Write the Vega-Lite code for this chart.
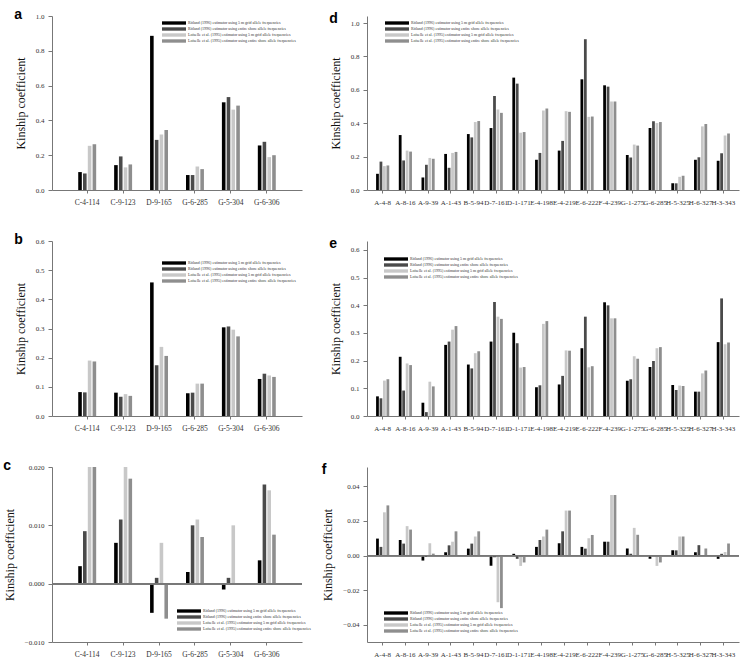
{
"$schema": "https://vega.github.io/schema/vega-lite/v6.json",
"padding": {"left": 3, "top": 8, "right": 4, "bottom": 0},
"background": "white",
"columns": 2,
"spacing": {"row": 27, "column": 10},
"resolve": {"legend": {"color": "independent"}, "scale": {"color": "independent", "y": "independent", "x": "independent", "xOffset": "independent"}},
"datasets": {
"a": [
{"locus":"C-4-114","m":"r5","v":0.103},{"locus":"C-4-114","m":"rs","v":0.095},{"locus":"C-4-114","m":"l5","v":0.254},{"locus":"C-4-114","m":"ls","v":0.263},
{"locus":"C-9-123","m":"r5","v":0.143},{"locus":"C-9-123","m":"rs","v":0.193},{"locus":"C-9-123","m":"l5","v":0.13},{"locus":"C-9-123","m":"ls","v":0.147},
{"locus":"D-9-165","m":"r5","v":0.886},{"locus":"D-9-165","m":"rs","v":0.288},{"locus":"D-9-165","m":"l5","v":0.319},{"locus":"D-9-165","m":"ls","v":0.345},
{"locus":"G-6-285","m":"r5","v":0.086},{"locus":"G-6-285","m":"rs","v":0.086},{"locus":"G-6-285","m":"l5","v":0.135},{"locus":"G-6-285","m":"ls","v":0.12},
{"locus":"G-5-304","m":"r5","v":0.504},{"locus":"G-5-304","m":"rs","v":0.534},{"locus":"G-5-304","m":"l5","v":0.462},{"locus":"G-5-304","m":"ls","v":0.485},
{"locus":"G-6-306","m":"r5","v":0.256},{"locus":"G-6-306","m":"rs","v":0.277},{"locus":"G-6-306","m":"l5","v":0.189},{"locus":"G-6-306","m":"ls","v":0.2}
],
"b": [
{"locus":"C-4-114","m":"r5","v":0.082},{"locus":"C-4-114","m":"rs","v":0.081},{"locus":"C-4-114","m":"l5","v":0.19},{"locus":"C-4-114","m":"ls","v":0.187},
{"locus":"C-9-123","m":"r5","v":0.08},{"locus":"C-9-123","m":"rs","v":0.066},{"locus":"C-9-123","m":"l5","v":0.075},{"locus":"C-9-123","m":"ls","v":0.069},
{"locus":"D-9-165","m":"r5","v":0.458},{"locus":"D-9-165","m":"rs","v":0.174},{"locus":"D-9-165","m":"l5","v":0.237},{"locus":"D-9-165","m":"ls","v":0.206},
{"locus":"G-6-285","m":"r5","v":0.078},{"locus":"G-6-285","m":"rs","v":0.08},{"locus":"G-6-285","m":"l5","v":0.111},{"locus":"G-6-285","m":"ls","v":0.111},
{"locus":"G-5-304","m":"r5","v":0.304},{"locus":"G-5-304","m":"rs","v":0.307},{"locus":"G-5-304","m":"l5","v":0.296},{"locus":"G-5-304","m":"ls","v":0.273},
{"locus":"G-6-306","m":"r5","v":0.127},{"locus":"G-6-306","m":"rs","v":0.145},{"locus":"G-6-306","m":"l5","v":0.139},{"locus":"G-6-306","m":"ls","v":0.134}
],
"c": [
{"locus":"C-4-114","m":"r5","v":0.003},{"locus":"C-4-114","m":"rs","v":0.009},{"locus":"C-4-114","m":"l5","v":0.02},{"locus":"C-4-114","m":"ls","v":0.02},
{"locus":"C-9-123","m":"r5","v":0.007},{"locus":"C-9-123","m":"rs","v":0.011},{"locus":"C-9-123","m":"l5","v":0.02},{"locus":"C-9-123","m":"ls","v":0.018},
{"locus":"D-9-165","m":"r5","v":-0.005},{"locus":"D-9-165","m":"rs","v":0.001},{"locus":"D-9-165","m":"l5","v":0.007},{"locus":"D-9-165","m":"ls","v":-0.006},
{"locus":"G-6-285","m":"r5","v":0.002},{"locus":"G-6-285","m":"rs","v":0.01},{"locus":"G-6-285","m":"l5","v":0.011},{"locus":"G-6-285","m":"ls","v":0.008},
{"locus":"G-5-304","m":"r5","v":-0.001},{"locus":"G-5-304","m":"rs","v":0.001},{"locus":"G-5-304","m":"l5","v":0.01},{"locus":"G-5-304","m":"ls","v":0},
{"locus":"G-6-306","m":"r5","v":0.004},{"locus":"G-6-306","m":"rs","v":0.017},{"locus":"G-6-306","m":"l5","v":0.016},{"locus":"G-6-306","m":"ls","v":0.0084}
],
"d": [
{"locus":"A-4-8","m":"r5","v":0.097},{"locus":"A-4-8","m":"rs","v":0.17},{"locus":"A-4-8","m":"l5","v":0.143},{"locus":"A-4-8","m":"ls","v":0.147},
{"locus":"A-8-16","m":"r5","v":0.329},{"locus":"A-8-16","m":"rs","v":0.177},{"locus":"A-8-16","m":"l5","v":0.236},{"locus":"A-8-16","m":"ls","v":0.23},
{"locus":"A-9-39","m":"r5","v":0.075},{"locus":"A-9-39","m":"rs","v":0.151},{"locus":"A-9-39","m":"l5","v":0.192},{"locus":"A-9-39","m":"ls","v":0.187},
{"locus":"A-1-43","m":"r5","v":0.216},{"locus":"A-1-43","m":"rs","v":0.133},{"locus":"A-1-43","m":"l5","v":0.222},{"locus":"A-1-43","m":"ls","v":0.228},
{"locus":"B-5-94","m":"r5","v":0.335},{"locus":"B-5-94","m":"rs","v":0.315},{"locus":"B-5-94","m":"l5","v":0.407},{"locus":"B-5-94","m":"ls","v":0.413},
{"locus":"D-7-161","m":"r5","v":0.371},{"locus":"D-7-161","m":"rs","v":0.563},{"locus":"D-7-161","m":"l5","v":0.482},{"locus":"D-7-161","m":"ls","v":0.462},
{"locus":"D-1-171","m":"r5","v":0.673},{"locus":"D-1-171","m":"rs","v":0.637},{"locus":"D-1-171","m":"l5","v":0.343},{"locus":"D-1-171","m":"ls","v":0.347},
{"locus":"E-4-198","m":"r5","v":0.181},{"locus":"E-4-198","m":"rs","v":0.222},{"locus":"E-4-198","m":"l5","v":0.476},{"locus":"E-4-198","m":"ls","v":0.488},
{"locus":"E-4-219","m":"r5","v":0.236},{"locus":"E-4-219","m":"rs","v":0.294},{"locus":"E-4-219","m":"l5","v":0.472},{"locus":"E-4-219","m":"ls","v":0.468},
{"locus":"E-6-222","m":"r5","v":0.663},{"locus":"E-6-222","m":"rs","v":0.903},{"locus":"E-6-222","m":"l5","v":0.438},{"locus":"E-6-222","m":"ls","v":0.44},
{"locus":"F-4-239","m":"r5","v":0.627},{"locus":"F-4-239","m":"rs","v":0.619},{"locus":"F-4-239","m":"l5","v":0.53},{"locus":"F-4-239","m":"ls","v":0.53},
{"locus":"G-1-275","m":"r5","v":0.21},{"locus":"G-1-275","m":"rs","v":0.194},{"locus":"G-1-275","m":"l5","v":0.272},{"locus":"G-1-275","m":"ls","v":0.266},
{"locus":"G-6-285","m":"r5","v":0.371},{"locus":"G-6-285","m":"rs","v":0.411},{"locus":"G-6-285","m":"l5","v":0.401},{"locus":"G-6-285","m":"ls","v":0.407},
{"locus":"H-5-325","m":"r5","v":0.04},{"locus":"H-5-325","m":"rs","v":0.04},{"locus":"H-5-325","m":"l5","v":0.079},{"locus":"H-5-325","m":"ls","v":0.085},
{"locus":"H-6-327","m":"r5","v":0.181},{"locus":"H-6-327","m":"rs","v":0.196},{"locus":"H-6-327","m":"l5","v":0.381},{"locus":"H-6-327","m":"ls","v":0.395},
{"locus":"H-3-343","m":"r5","v":0.175},{"locus":"H-3-343","m":"rs","v":0.22},{"locus":"H-3-343","m":"l5","v":0.327},{"locus":"H-3-343","m":"ls","v":0.339}
],
"e": [
{"locus":"A-4-8","m":"r5","v":0.071},{"locus":"A-4-8","m":"rs","v":0.064},{"locus":"A-4-8","m":"l5","v":0.128},{"locus":"A-4-8","m":"ls","v":0.133},
{"locus":"A-8-16","m":"r5","v":0.214},{"locus":"A-8-16","m":"rs","v":0.092},{"locus":"A-8-16","m":"l5","v":0.19},{"locus":"A-8-16","m":"ls","v":0.184},
{"locus":"A-9-39","m":"r5","v":0.048},{"locus":"A-9-39","m":"rs","v":0.014},{"locus":"A-9-39","m":"l5","v":0.124},{"locus":"A-9-39","m":"ls","v":0.107},
{"locus":"A-1-43","m":"r5","v":0.257},{"locus":"A-1-43","m":"rs","v":0.269},{"locus":"A-1-43","m":"l5","v":0.312},{"locus":"A-1-43","m":"ls","v":0.325},
{"locus":"B-5-94","m":"r5","v":0.186},{"locus":"B-5-94","m":"rs","v":0.172},{"locus":"B-5-94","m":"l5","v":0.227},{"locus":"B-5-94","m":"ls","v":0.234},
{"locus":"D-7-161","m":"r5","v":0.269},{"locus":"D-7-161","m":"rs","v":0.412},{"locus":"D-7-161","m":"l5","v":0.359},{"locus":"D-7-161","m":"ls","v":0.351},
{"locus":"D-1-171","m":"r5","v":0.301},{"locus":"D-1-171","m":"rs","v":0.263},{"locus":"D-1-171","m":"l5","v":0.175},{"locus":"D-1-171","m":"ls","v":0.177},
{"locus":"E-4-198","m":"r5","v":0.104},{"locus":"E-4-198","m":"rs","v":0.111},{"locus":"E-4-198","m":"l5","v":0.333},{"locus":"E-4-198","m":"ls","v":0.343},
{"locus":"E-4-219","m":"r5","v":0.114},{"locus":"E-4-219","m":"rs","v":0.145},{"locus":"E-4-219","m":"l5","v":0.237},{"locus":"E-4-219","m":"ls","v":0.236},
{"locus":"E-6-222","m":"r5","v":0.245},{"locus":"E-6-222","m":"rs","v":0.359},{"locus":"E-6-222","m":"l5","v":0.176},{"locus":"E-6-222","m":"ls","v":0.18},
{"locus":"F-4-239","m":"r5","v":0.411},{"locus":"F-4-239","m":"rs","v":0.4},{"locus":"F-4-239","m":"l5","v":0.353},{"locus":"F-4-239","m":"ls","v":0.353},
{"locus":"G-1-275","m":"r5","v":0.127},{"locus":"G-1-275","m":"rs","v":0.133},{"locus":"G-1-275","m":"l5","v":0.216},{"locus":"G-1-275","m":"ls","v":0.207},
{"locus":"G-6-285","m":"r5","v":0.177},{"locus":"G-6-285","m":"rs","v":0.199},{"locus":"G-6-285","m":"l5","v":0.245},{"locus":"G-6-285","m":"ls","v":0.249},
{"locus":"H-5-325","m":"r5","v":0.112},{"locus":"H-5-325","m":"rs","v":0.094},{"locus":"H-5-325","m":"l5","v":0.11},{"locus":"H-5-325","m":"ls","v":0.108},
{"locus":"H-6-327","m":"r5","v":0.088},{"locus":"H-6-327","m":"rs","v":0.088},{"locus":"H-6-327","m":"l5","v":0.154},{"locus":"H-6-327","m":"ls","v":0.164},
{"locus":"H-3-343","m":"r5","v":0.267},{"locus":"H-3-343","m":"rs","v":0.425},{"locus":"H-3-343","m":"l5","v":0.259},{"locus":"H-3-343","m":"ls","v":0.266}
],
"f": [
{"locus":"A-4-8","m":"r5","v":0.0098},{"locus":"A-4-8","m":"rs","v":0.005},{"locus":"A-4-8","m":"l5","v":0.025},{"locus":"A-4-8","m":"ls","v":0.029},
{"locus":"A-8-16","m":"r5","v":0.009},{"locus":"A-8-16","m":"rs","v":0.0069},{"locus":"A-8-16","m":"l5","v":0.017},{"locus":"A-8-16","m":"ls","v":0.015},
{"locus":"A-9-39","m":"r5","v":-0.0029},{"locus":"A-9-39","m":"rs","v":-0.0008},{"locus":"A-9-39","m":"l5","v":0.0071},{"locus":"A-9-39","m":"ls","v":0.0011},
{"locus":"A-1-43","m":"r5","v":0.0019},{"locus":"A-1-43","m":"rs","v":0.0059},{"locus":"A-1-43","m":"l5","v":0.008},{"locus":"A-1-43","m":"ls","v":0.014},
{"locus":"B-5-94","m":"r5","v":0.004},{"locus":"B-5-94","m":"rs","v":0.0069},{"locus":"B-5-94","m":"l5","v":0.011},{"locus":"B-5-94","m":"ls","v":0.014},
{"locus":"D-7-161","m":"r5","v":-0.0059},{"locus":"D-7-161","m":"rs","v":-0.001},{"locus":"D-7-161","m":"l5","v":-0.027},{"locus":"D-7-161","m":"ls","v":-0.0304},
{"locus":"D-1-171","m":"r5","v":0.001},{"locus":"D-1-171","m":"rs","v":-0.0019},{"locus":"D-1-171","m":"l5","v":-0.006},{"locus":"D-1-171","m":"ls","v":-0.004},
{"locus":"E-4-198","m":"r5","v":0.005},{"locus":"E-4-198","m":"rs","v":0.009},{"locus":"E-4-198","m":"l5","v":0.011},{"locus":"E-4-198","m":"ls","v":0.015},
{"locus":"E-4-219","m":"r5","v":0.0071},{"locus":"E-4-219","m":"rs","v":0.014},{"locus":"E-4-219","m":"l5","v":0.026},{"locus":"E-4-219","m":"ls","v":0.026},
{"locus":"E-6-222","m":"r5","v":0.005},{"locus":"E-6-222","m":"rs","v":0.004},{"locus":"E-6-222","m":"l5","v":0.01},{"locus":"E-6-222","m":"ls","v":0.0119},
{"locus":"F-4-239","m":"r5","v":0.008},{"locus":"F-4-239","m":"rs","v":0.008},{"locus":"F-4-239","m":"l5","v":0.035},{"locus":"F-4-239","m":"ls","v":0.035},
{"locus":"G-1-275","m":"r5","v":0.004},{"locus":"G-1-275","m":"rs","v":0.001},{"locus":"G-1-275","m":"l5","v":0.016},{"locus":"G-1-275","m":"ls","v":0.012},
{"locus":"G-6-285","m":"r5","v":-0.0019},{"locus":"G-6-285","m":"rs","v":0},{"locus":"G-6-285","m":"l5","v":-0.006},{"locus":"G-6-285","m":"ls","v":-0.004},
{"locus":"H-5-325","m":"r5","v":0.003},{"locus":"H-5-325","m":"rs","v":0.003},{"locus":"H-5-325","m":"l5","v":0.011},{"locus":"H-5-325","m":"ls","v":0.011},
{"locus":"H-6-327","m":"r5","v":0.0019},{"locus":"H-6-327","m":"rs","v":0.006},{"locus":"H-6-327","m":"l5","v":0},{"locus":"H-6-327","m":"ls","v":0.004},
{"locus":"H-3-343","m":"r5","v":-0.0019},{"locus":"H-3-343","m":"rs","v":0.001},{"locus":"H-3-343","m":"l5","v":0.002},{"locus":"H-3-343","m":"ls","v":0.0069}
]
},
"concat": [
{
"title": {"text": "a"},
"data": {"name": "a"},
"width": 250, "height": 174,
"mark": {"type": "bar"},
"encoding": {
"x": {"field": "locus", "type": "nominal", "sort": null, "title": null, "scale": {"paddingInner": 0.5, "paddingOuter": 0.73}, "axis": {"labelAngle": 0, "labelOverlap": false, "labelFontSize": 7.5}},
"xOffset": {"field": "m", "sort": ["r5","rs","l5","ls"], "scale": {"paddingInner": 0.25}},
"y": {"field": "v", "type": "quantitative", "title": "Kinship coefficient", "scale": {"domain": [0, 1], "nice": false}, "axis": {"values": [0,0.2,0.4,0.6,0.8,1.0], "format": ".1f"}},
"color": {"field": "m", "sort": ["r5","rs","l5","ls"], "scale": {"domain": ["r5","rs","l5","ls"], "range": ["#000000","#4a4a4a","#c8c8c8","#8e8e8e"]},
 "legend": {"orient": "none", "legendX": 118, "legendY": 3, "labelExpr": "datum.label == 'r5' ? 'Ritland (1996) estimator using 5 m grid allele frequencies' : datum.label == 'rs' ? 'Ritland (1996) estimator using entire shore allele frequencies' : datum.label == 'l5' ? 'Loiselle et al. (1995) estimator using 5 m grid allele frequencies' : 'Loiselle et al. (1995) estimator using entire shore allele frequencies'"}}
}
},
{
"title": {"text": "d"},
"data": {"name": "d"},
"width": 372, "height": 174,
"mark": {"type": "bar"},
"encoding": {
"x": {"field": "locus", "type": "nominal", "sort": null, "title": null, "scale": {"paddingInner": 0.42, "paddingOuter": 0.4}, "axis": {"labelAngle": 0, "labelOverlap": false, "labelFontSize": 7}},
"xOffset": {"field": "m", "sort": ["r5","rs","l5","ls"], "scale": {"paddingInner": 0.2}},
"y": {"field": "v", "type": "quantitative", "title": "Kinship coefficient", "scale": {"domain": [0, 1.042], "nice": false}, "axis": {"values": [0,0.2,0.4,0.6,0.8,1.0], "format": ".1f"}},
"color": {"field": "m", "sort": ["r5","rs","l5","ls"], "scale": {"domain": ["r5","rs","l5","ls"], "range": ["#000000","#4a4a4a","#c8c8c8","#8e8e8e"]},
 "legend": {"orient": "none", "legendX": 26, "legendY": 3, "labelExpr": "datum.label == 'r5' ? 'Ritland (1996) estimator using 5 m grid allele frequencies' : datum.label == 'rs' ? 'Ritland (1996) estimator using entire shore allele frequencies' : datum.label == 'l5' ? 'Loiselle et al. (1995) estimator using 5 m grid allele frequencies' : 'Loiselle et al. (1995) estimator using entire shore allele frequencies'"}}
}
},
{
"title": {"text": "b"},
"data": {"name": "b"},
"width": 250, "height": 175,
"mark": {"type": "bar"},
"encoding": {
"x": {"field": "locus", "type": "nominal", "sort": null, "title": null, "scale": {"paddingInner": 0.5, "paddingOuter": 0.73}, "axis": {"labelAngle": 0, "labelOverlap": false, "labelFontSize": 7.5}},
"xOffset": {"field": "m", "sort": ["r5","rs","l5","ls"], "scale": {"paddingInner": 0.25}},
"y": {"field": "v", "type": "quantitative", "title": "Kinship coefficient", "scale": {"domain": [0, 0.6], "nice": false}, "axis": {"values": [0,0.1,0.2,0.3,0.4,0.5,0.6], "format": ".1f"}},
"color": {"field": "m", "sort": ["r5","rs","l5","ls"], "scale": {"domain": ["r5","rs","l5","ls"], "range": ["#000000","#4a4a4a","#c8c8c8","#8e8e8e"]},
 "legend": {"orient": "none", "legendX": 118, "legendY": 18, "labelExpr": "datum.label == 'r5' ? 'Ritland (1996) estimator using 5 m grid allele frequencies' : datum.label == 'rs' ? 'Ritland (1996) estimator using entire shore allele frequencies' : datum.label == 'l5' ? 'Loiselle et al. (1995) estimator using 5 m grid allele frequencies' : 'Loiselle et al. (1995) estimator using entire shore allele frequencies'"}}
}
},
{
"title": {"text": "e"},
"data": {"name": "e"},
"width": 372, "height": 175,
"mark": {"type": "bar"},
"encoding": {
"x": {"field": "locus", "type": "nominal", "sort": null, "title": null, "scale": {"paddingInner": 0.42, "paddingOuter": 0.4}, "axis": {"labelAngle": 0, "labelOverlap": false, "labelFontSize": 7}},
"xOffset": {"field": "m", "sort": ["r5","rs","l5","ls"], "scale": {"paddingInner": 0.2}},
"y": {"field": "v", "type": "quantitative", "title": "Kinship coefficient", "scale": {"domain": [0, 0.6325], "nice": false}, "axis": {"values": [0,0.1,0.2,0.3,0.4,0.5,0.6], "format": ".1f"}},
"color": {"field": "m", "sort": ["r5","rs","l5","ls"], "scale": {"domain": ["r5","rs","l5","ls"], "range": ["#000000","#4a4a4a","#c8c8c8","#8e8e8e"]},
 "legend": {"orient": "none", "legendX": 25, "legendY": 14, "labelExpr": "datum.label == 'r5' ? 'Ritland (1996) estimator using 5 m grid allele frequencies' : datum.label == 'rs' ? 'Ritland (1996) estimator using entire shore allele frequencies' : datum.label == 'l5' ? 'Loiselle et al. (1995) estimator using 5 m grid allele frequencies' : 'Loiselle et al. (1995) estimator using entire shore allele frequencies'"}}
}
},
{
"title": {"text": "c"},
"data": {"name": "c"},
"width": 250, "height": 175,
"layer": [
{
"mark": {"type": "bar"},
"encoding": {
"x": {"field": "locus", "type": "nominal", "sort": null, "title": null, "scale": {"paddingInner": 0.5, "paddingOuter": 0.73}, "axis": {"labelAngle": 0, "labelOverlap": false, "labelFontSize": 7.5}},
"xOffset": {"field": "m", "sort": ["r5","rs","l5","ls"], "scale": {"paddingInner": 0.25}},
"y": {"field": "v", "type": "quantitative", "title": "Kinship coefficient", "scale": {"domain": [-0.01, 0.02], "nice": false}, "axis": {"values": [-0.01,-0.005,0,0.005,0.01,0.015,0.02], "format": ".3f"}},
"color": {"field": "m", "sort": ["r5","rs","l5","ls"], "scale": {"domain": ["r5","rs","l5","ls"], "range": ["#000000","#4a4a4a","#c8c8c8","#8e8e8e"]},
 "legend": {"orient": "none", "legendX": 133, "legendY": 140, "labelExpr": "datum.label == 'r5' ? 'Ritland (1996) estimator using 5 m grid allele frequencies' : datum.label == 'rs' ? 'Ritland (1996) estimator using entire shore allele frequencies' : datum.label == 'l5' ? 'Loiselle et al. (1995) estimator using 5 m grid allele frequencies' : 'Loiselle et al. (1995) estimator using entire shore allele frequencies'"}}
}
},
{
"mark": {"type": "rule", "color": "#777", "strokeWidth": 1},
"encoding": {"y": {"datum": 0}}
}
]
},
{
"title": {"text": "f"},
"data": {"name": "f"},
"width": 372, "height": 175,
"layer": [
{
"mark": {"type": "bar"},
"encoding": {
"x": {"field": "locus", "type": "nominal", "sort": null, "title": null, "scale": {"paddingInner": 0.42, "paddingOuter": 0.4}, "axis": {"labelAngle": 0, "labelOverlap": false, "labelFontSize": 7}},
"xOffset": {"field": "m", "sort": ["r5","rs","l5","ls"], "scale": {"paddingInner": 0.2}},
"y": {"field": "v", "type": "quantitative", "title": "Kinship coefficient", "scale": {"domain": [-0.05, 0.0512], "nice": false}, "axis": {"values": [-0.04,-0.02,0,0.02,0.04], "format": ".2f"}},
"color": {"field": "m", "sort": ["r5","rs","l5","ls"], "scale": {"domain": ["r5","rs","l5","ls"], "range": ["#000000","#4a4a4a","#c8c8c8","#8e8e8e"]},
 "legend": {"orient": "none", "legendX": 25, "legendY": 142, "labelExpr": "datum.label == 'r5' ? 'Ritland (1996) estimator using 5 m grid allele frequencies' : datum.label == 'rs' ? 'Ritland (1996) estimator using entire shore allele frequencies' : datum.label == 'l5' ? 'Loiselle et al. (1995) estimator using 5 m grid allele frequencies' : 'Loiselle et al. (1995) estimator using entire shore allele frequencies'"}}
}
},
{
"mark": {"type": "rule", "color": "#777", "strokeWidth": 1},
"encoding": {"y": {"datum": 0}}
}
]
}
],
"config": {
"view": {"stroke": null},
"font": "Liberation Serif",
"title": {"anchor": "start", "frame": "bounds", "font": "Liberation Sans", "fontSize": 14, "fontWeight": "bold", "color": "#000", "offset": -10},
"axis": {"grid": false, "labelFont": "Liberation Serif", "titleFont": "Liberation Serif", "titleFontWeight": "normal", "titleFontSize": 12, "titleColor": "#111", "labelColor": "#333", "labelFontSize": 7, "domainColor": "#777", "tickColor": "#777", "tickSize": 3, "labelPadding": 4},
"axisY": {"titlePadding": 8, "tickSize": 4},
"axisX": {"labelPadding": 5},
"legend": {"title": null, "symbolType": "M-3,-0.42L3,-0.42L3,0.42L-3,0.42Z", "symbolSize": 64, "symbolStrokeWidth": 0, "labelFont": "Liberation Serif", "labelFontSize": 4, "labelColor": "#333", "rowPadding": -2, "labelOffset": 10, "padding": 0}
}
}
